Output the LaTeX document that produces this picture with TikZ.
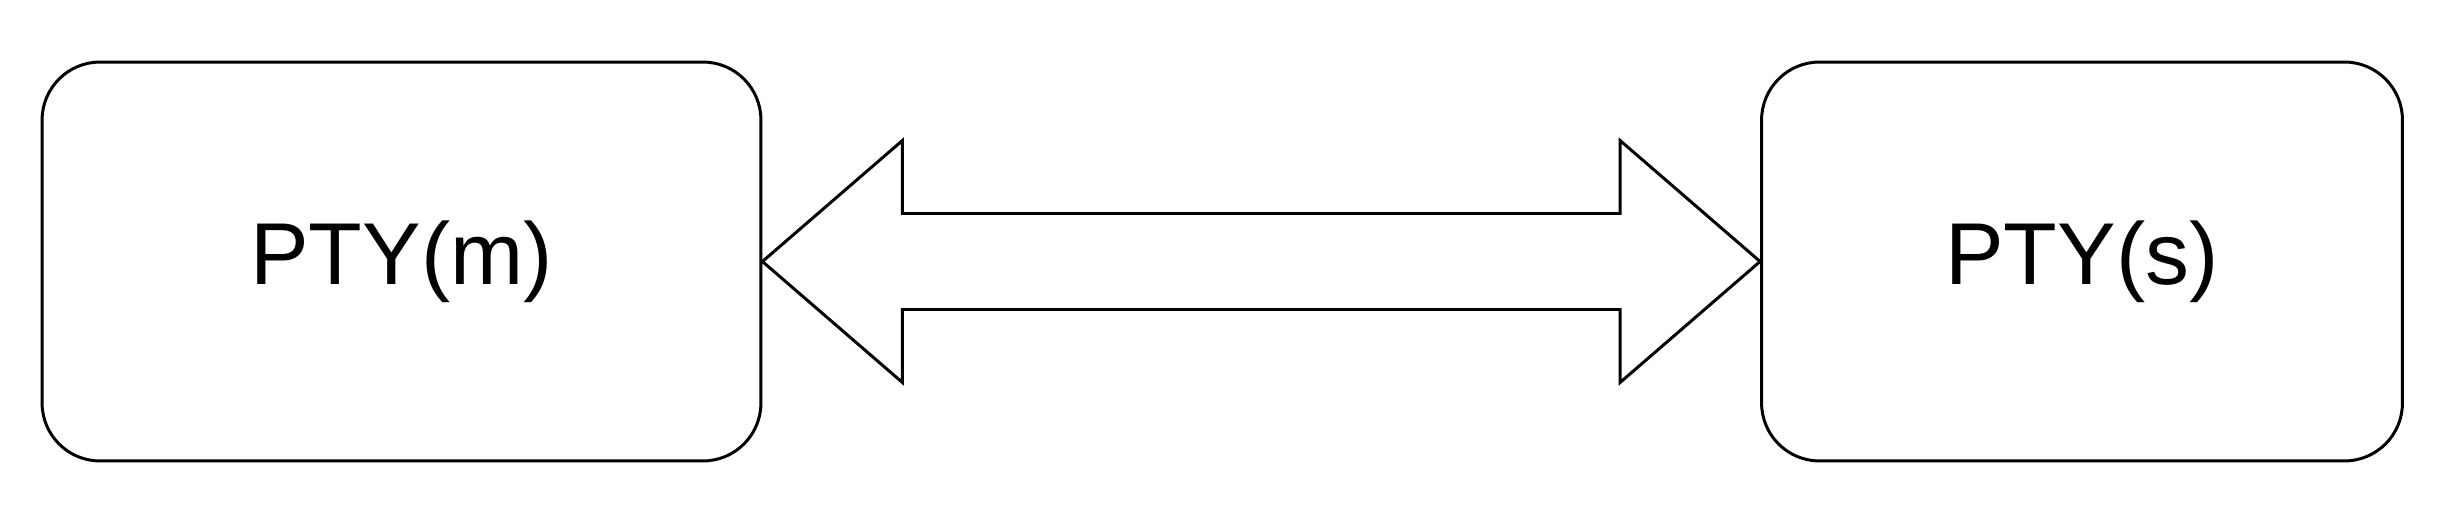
\documentclass[tikz,border=0pt]{standalone}
\usepackage{fontspec}
\setmainfont{Liberation Sans}
\usetikzlibrary{calc}

\begin{document}
\begin{tikzpicture}[x=0.02cm,y=-0.02cm,box/.style={draw,line width=1.7pt,rounded corners=1.16cm,minimum height=7.98cm,font=\fontsize{50}{60}\selectfont},dbl/.style={draw,line width=1.7pt,line join=miter}]
\useasboundingbox (0,0) rectangle (2444,524);
\node[box,minimum width=14.38cm] (pm) at (401.5,261.5) {PTY(m)};
\node[box,minimum width=12.82cm] (ps) at (2082,261.5) {PTY(s)};
\draw[dbl] (pm.east) -- ++(140,-121) -- ++(0,73) -- ($(ps.west)+(-140,-48)$) -- ++(0,-73) -- (ps.west) -- ++(-140,121) -- ++(0,-73) -- ($(pm.east)+(140,48)$) -- ++(0,73) -- cycle;
\end{tikzpicture}
\end{document}
